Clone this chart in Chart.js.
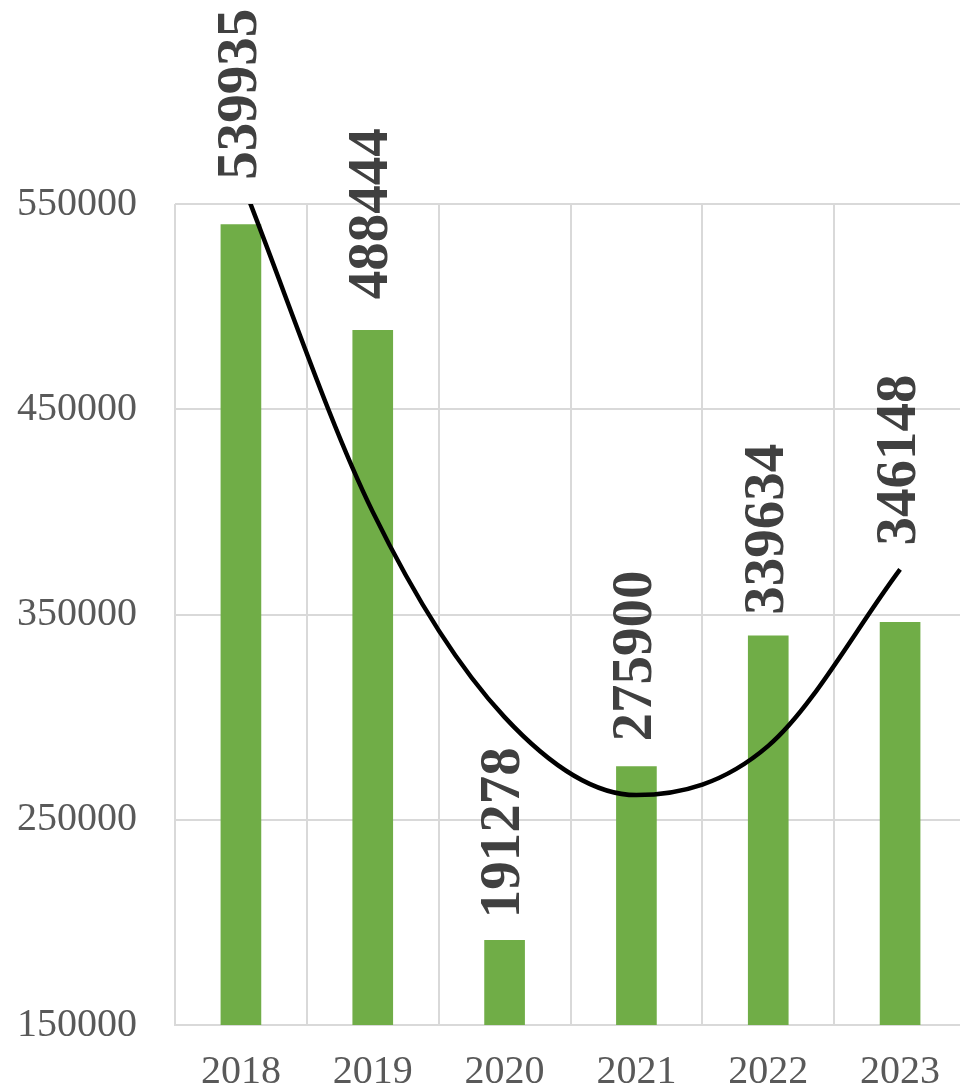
<!DOCTYPE html>
<html>
<head>
<meta charset="utf-8">
<script src="https://cdn.jsdelivr.net/npm/chart.js@4.4.0/dist/chart.umd.min.js"></script>
<style>
  html, body { margin: 0; padding: 0; background: #fff; overflow: hidden; }
  #wrap { width: 966px; height: 1092px; }
</style>
</head>
<body>
<div id="wrap"><canvas id="chart" width="966" height="1092"></canvas></div>
<script>
const years = ['2018', '2019', '2020', '2021', '2022', '2023'];
const volumes = [539935, 488444, 191278, 275900, 339634, 346148];
// polynomial trend at each year
const trend = [562000, 400000, 300000, 262000, 286000, 372000];
const yTicks = [150000, 250000, 350000, 450000, 550000];

// labels were placed by hand in the original, gap above each bar in px
const labelGaps = [45, 31, 22, 25, 21, 77];

const gridColor = '#d9d9d9';
const tickFont = { family: '"Liberation Serif", "Times New Roman", serif', size: 40 };

const barLabels = {
  id: 'barLabels',
  afterDatasetsDraw(chart) {
    const ctx = chart.ctx;
    const meta = chart.getDatasetMeta(0);
    ctx.save();
    ctx.font = 'bold 57px "Liberation Serif", "Times New Roman", serif';
    ctx.fillStyle = '#404040';
    ctx.textAlign = 'left';
    ctx.textBaseline = 'middle';
    meta.data.forEach((bar, i) => {
      ctx.save();
      ctx.translate(bar.x, bar.y - labelGaps[i]);
      ctx.rotate(-Math.PI / 2);
      ctx.fillText(String(volumes[i]), 0, 0);
      ctx.restore();
    });
    ctx.restore();
  },
};

new Chart(document.getElementById('chart').getContext('2d'), {
  type: 'bar',
  data: {
    labels: years,
    datasets: [
      {
        type: 'bar',
        data: volumes,
        backgroundColor: '#70ad47',
        barThickness: 40,
        order: 1,
      },
      {
        type: 'line',
        data: trend,
        borderColor: '#000000',
        borderWidth: 4.5,
        pointRadius: 0,
        cubicInterpolationMode: 'monotone',
        fill: false,
        order: 0,
      },
    ],
  },
  options: {
    responsive: false,
    animation: false,
    devicePixelRatio: 1,
    layout: { padding: { top: 204, left: 0, right: 0, bottom: 0 } },
    plugins: {
      legend: { display: false },
      tooltip: { enabled: false },
    },
    scales: {
      x: {
        offset: true,
        grid: { color: gridColor, lineWidth: 2, offset: true, drawTicks: false },
        border: { color: gridColor, width: 2 },
        ticks: { font: tickFont, color: '#595959', padding: 23, maxRotation: 0 },
        afterFit: (s) => { s.height = 67; },
      },
      y: {
        min: 150000,
        max: 550000,
        grid: { color: gridColor, lineWidth: 2, drawTicks: false },
        border: { display: false },
        ticks: {
          font: tickFont,
          color: '#595959',
          padding: 38,
          callback: (v) => String(v),
        },
        afterBuildTicks: (s) => { s.ticks = yTicks.map((v) => ({ value: v })); },
        afterFit: (s) => { s.width = 175; },
      },
    },
  },
  plugins: [barLabels],
});
</script>
</body>
</html>
